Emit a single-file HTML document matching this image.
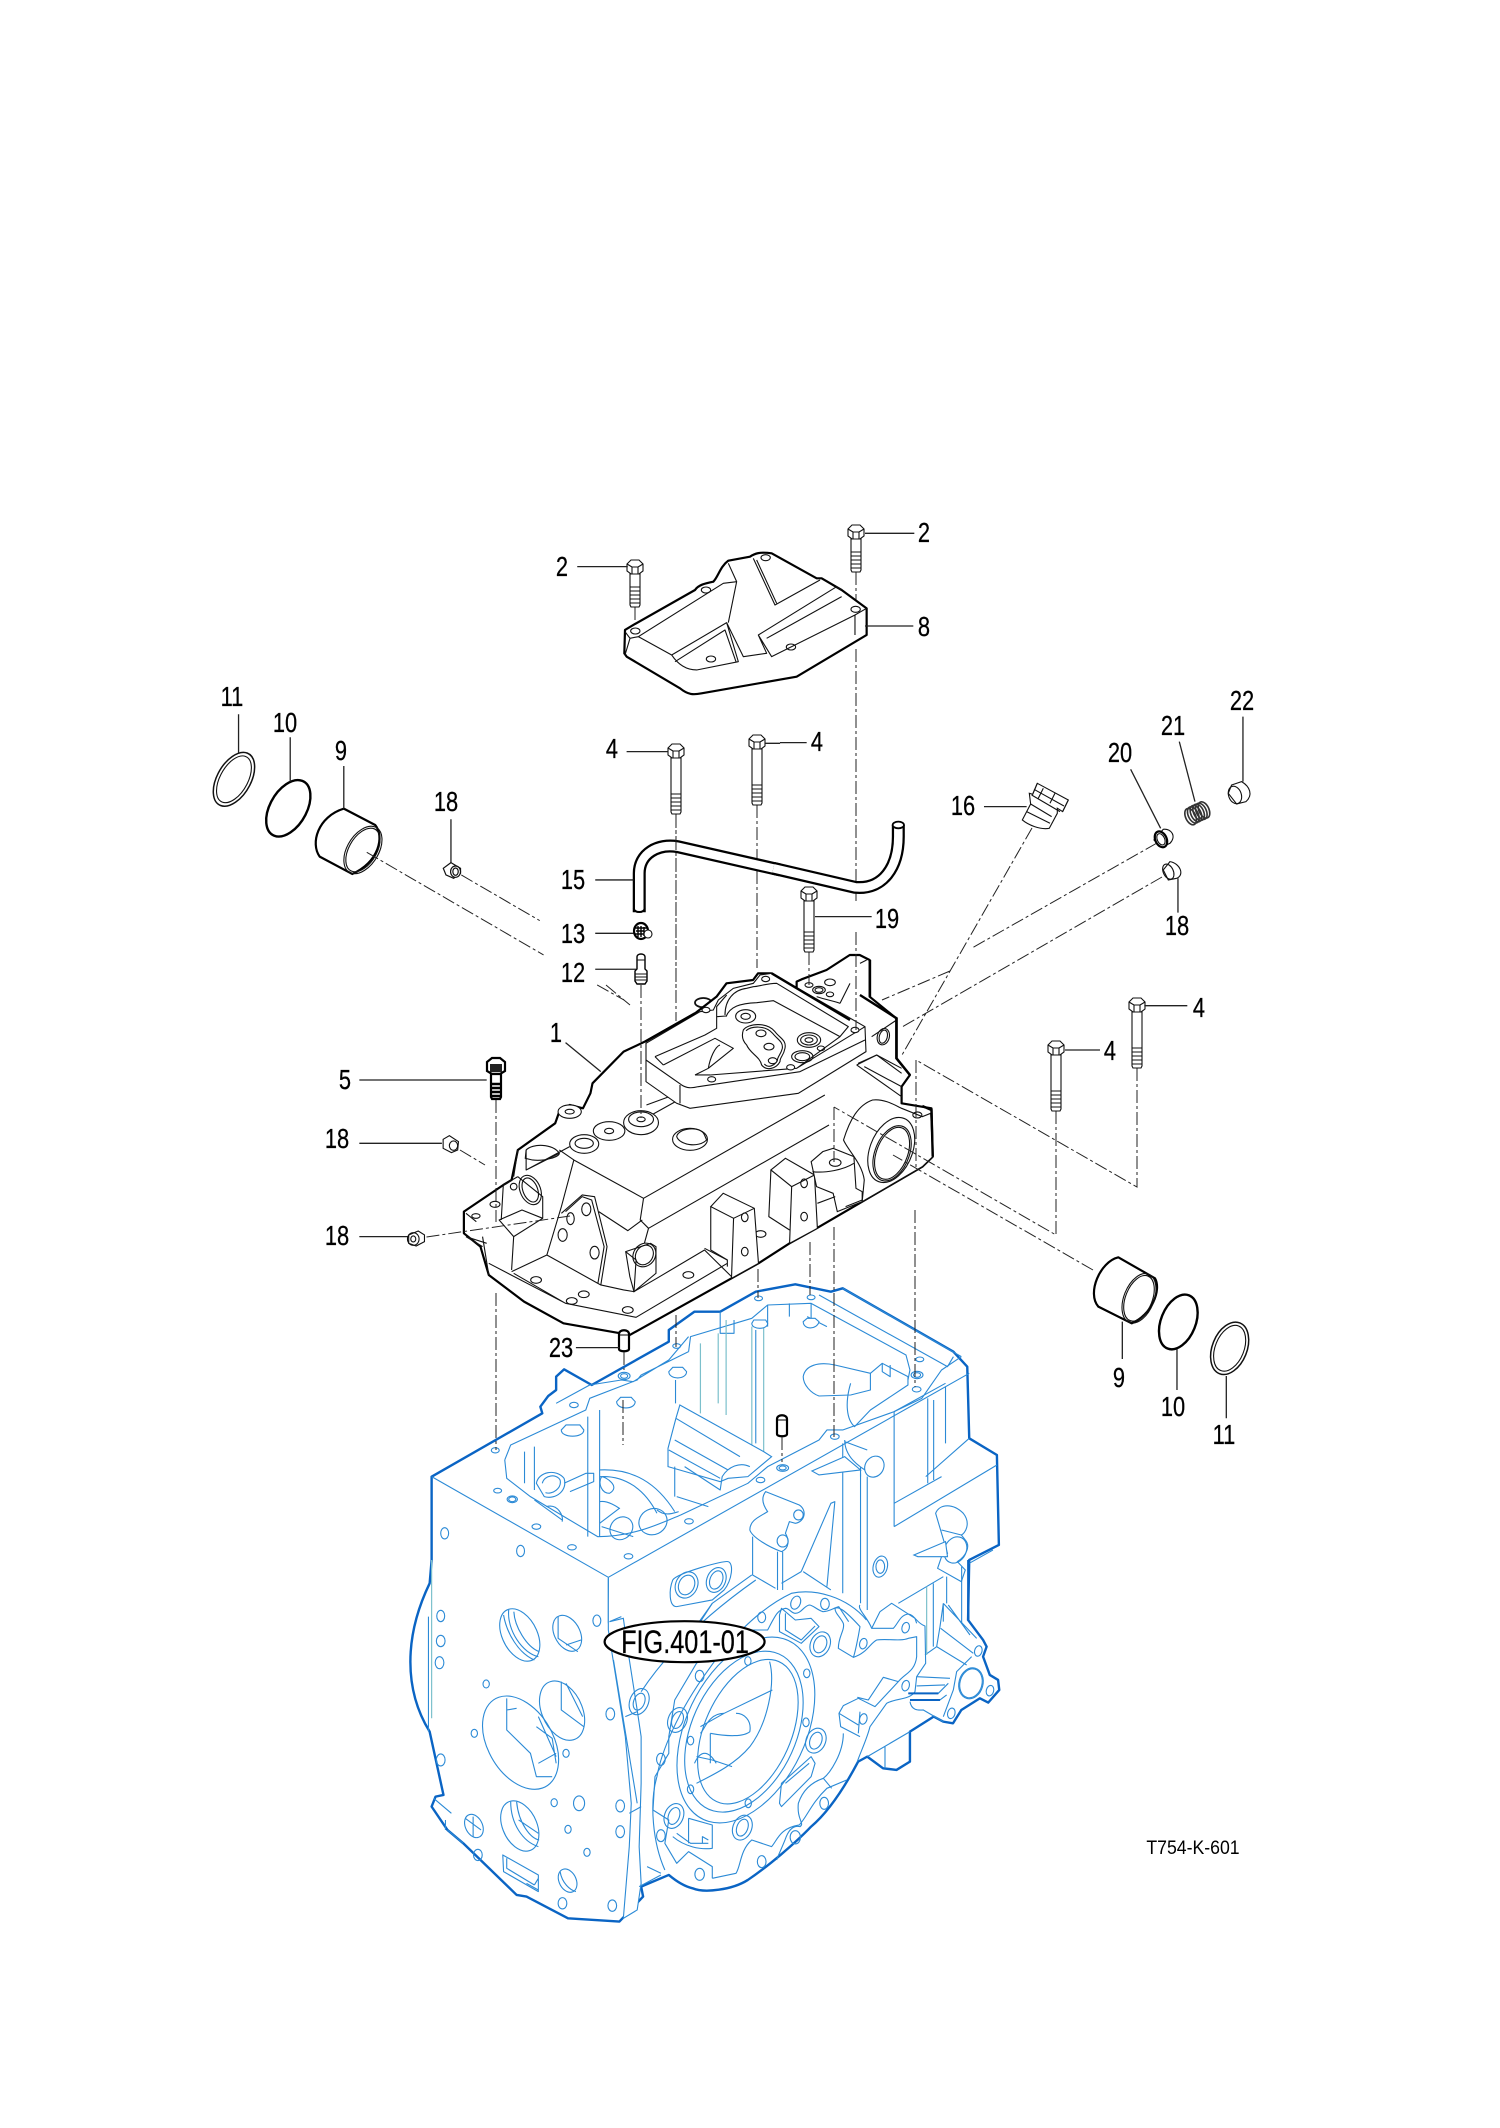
<!DOCTYPE html>
<html><head><meta charset="utf-8"><style>
html,body{margin:0;padding:0;background:#fff}
svg{display:block}
svg *{vector-effect:non-scaling-stroke}
.o{fill:#fff;stroke:#0a64c4;stroke-width:2.4;stroke-linejoin:round}
.bk{fill:none;stroke:#0a64c4;stroke-width:2.4}
.t{fill:none;stroke:#2b8ad6;stroke-width:1.1;stroke-linejoin:round}
.tf{fill:#fff;stroke:#2b8ad6;stroke-width:1.1}
.g{fill:none;stroke:#7cc0cc;stroke-width:1.2}
.c{fill:#fff;stroke:#000;stroke-width:2.2;stroke-linejoin:round}
.k{fill:none;stroke:#111;stroke-width:1.1;stroke-linejoin:round}
.kf{fill:#fff;stroke:#111;stroke-width:1.1}
.K{fill:none;stroke:#000;stroke-width:2.4}
.Kf{fill:#fff;stroke:#000;stroke-width:2.2}
.d{fill:none;stroke:#222;stroke-width:1;stroke-dasharray:13 3 3 3}
.l{fill:none;stroke:#222;stroke-width:1.3}
text{font-family:"Liberation Sans",sans-serif;font-size:28px;fill:#000;text-anchor:middle;stroke:#000;stroke-width:.25}
</style></head><body>
<svg xmlns="http://www.w3.org/2000/svg" width="1500" height="2128" viewBox="0 0 1500 2128">
<defs>
<g id="h"><path class="kf" d="M-8,-3 L-4,-7 L4,-7 L8,-3 L8,4 L4,7 L-4,7 L-8,4 Z"/><path class="k" d="M-8,-3 L-3,0 L3,0 L8,-3 M-3,0 V7 M3,0 V7"/></g>
<g id="th"><path class="k" d="M-5,-20H5M-5,-16H5M-5,-12H5M-5,-8H5M-5,-4H5"/></g>
</defs>

<!-- BLUE HOUSING -->
<g transform="translate(400,1270) scale(.3953,.3333)">
<path class="o" d="M80,620 L360,430 L355,410 L375,378 L395,360 L395,320 L415,298 L485,345 L680,215 L680,180 L745,125 L810,125 L900,65 L1000,43 L1090,65 L1120,55 L1400,245 L1435,290 L1440,505 L1510,555 L1515,825 L1440,870 L1437,1050 L1475,1110 L1484,1130 L1475,1160 L1492,1215 L1513,1230 L1516,1260 L1488,1298 L1467,1285 L1420,1320 L1399,1360 L1374,1355 L1350,1340 L1290,1385 L1290,1475 L1256,1500 L1222,1495 L1182,1460 L1159,1475 C1130,1540 1090,1620 1040,1670 C1000,1720 930,1790 880,1830 C840,1860 770,1870 740,1855 C715,1848 695,1830 680,1815 L610,1850 L615,1880 L555,1955 L425,1945 L320,1880 L295,1875 L160,1720 L120,1680 L80,1610 L90,1580 L110,1575 L75,1385 C10,1260 10,1100 75,940 L80,870 Z"/>
<!-- top edges -->
<path class="t" d="M80,620 L527,922 L1440,310 M527,922 V1060 M1250,770 L1510,585 M1250,770 V425 M1250,700 L1370,620 M1440,505 L1330,620 M1250,425 L1380,340"/>
<path class="t" d="M730,245 L735,200 L890,145 L930,105 L1040,100 L1280,255 L1290,300 L1285,330 M1060,75 L1385,290 L1400,260 M1120,55 L1420,260"/>
<path class="t" d="M265,570 L280,525 L470,420 L480,385 L600,330 L610,315 L730,245 M395,400 L480,345 L560,330 L590,335 L680,270 L730,200"/>
<path class="t" d="M265,570 L270,625 L330,680 L500,800 C590,800 660,760 710,735 L880,640 L930,590 L1060,510 L1080,480 L1120,480 L1250,425 L1320,385 L1370,300 L1420,260"/>
<path class="t" d="M810,125 L810,190 L845,190 L845,150 M1040,100 L1040,165 M930,105 V170 M985,100 V140 M1030,140 L1080,170"/>
<path class="g" d="M805,190 V400 M825,150 V435 M760,220 V430 M890,170 V530 M920,170 V550"/>
<path class="t" d="M900,180 V520 M697,330 V400 M475,440 V800 M505,420 V800 M340,530 V660 M315,545 V640 M1120,520 V970 M1165,610 V1000 M1182,620 V1020 M1335,385 V640 M1350,390 V630 M1380,350 V520"/>
<!-- dowel bosses -->
<path class="tf" d="M890,160 C890,180 930,180 930,160 L925,150 L895,150Z M1020,155 C1020,180 1055,180 1060,155 L1050,145 L1030,145Z M680,305 C680,330 725,330 725,305 L715,292 L690,292Z M548,395 C548,420 595,420 595,395 L585,382 L558,382Z M408,480 C408,505 465,505 465,480 L455,465 L420,465Z"/>
<!-- inner casting ridge -->
<path class="tf" d="M708,405 L920,545 L940,560 L880,620 L830,625 L810,635 L678,590 L678,535 L698,445Z"/>
<path class="t" d="M680,540 L810,625 M695,510 L830,600 M698,445 L860,560 M720,590 L810,660 L815,620 C830,590 860,575 885,590 M700,680 L780,710 M695,590 V680"/>
<path class="t" d="M1020,320 C1025,285 1060,275 1100,285 L1190,310 L1190,360 L1140,375 L1060,378 C1040,370 1020,345 1020,320 Z M1190,310 L1220,280 L1285,320 L1285,345 L1190,420 L1150,470 C1130,450 1125,400 1140,340"/>
<path class="t" d="M1220,280 V305 L1240,320 V285"/>
<!-- interior left -->
<path class="t" d="M345,640 C350,605 395,595 415,625 C425,660 395,690 365,680 Z M360,640 C365,615 395,610 405,630 C410,655 385,675 368,668 M415,640 L470,610 L490,610 V635 L430,665 M505,600 C590,595 650,640 695,725 M505,620 C570,615 620,660 650,730 M510,620 C520,620 560,650 530,670 C510,670 500,640 510,620 Z M505,760 L555,715 M505,695 C530,690 560,720 555,715"/>
<ellipse class="t" cx="560" cy="775" rx="28" ry="35" transform="rotate(20 560 775)"/>
<ellipse class="t" cx="640" cy="755" rx="35" ry="40" transform="rotate(20 640 755)"/>
<path class="t" d="M650,720 C670,740 690,730 705,725 M370,710 C400,700 415,740 410,755 M340,690 L410,750 M510,770 L590,800"/>
<!-- holes top face -->
<g class="t">
<ellipse class="t" cx="241" cy="541" rx="10" ry="8"/><ellipse class="t" cx="247" cy="662" rx="10" ry="7"/><ellipse class="t" cx="284" cy="688" rx="13" ry="10"/><ellipse class="t" cx="284" cy="688" rx="9" ry="7"/><ellipse class="t" cx="345" cy="770" rx="11" ry="8"/><ellipse class="t" cx="435" cy="832" rx="11" ry="8"/><ellipse class="t" cx="578" cy="859" rx="11" ry="8"/><ellipse class="t" cx="731" cy="754" rx="11" ry="8"/><ellipse class="t" cx="912" cy="630" rx="11" ry="8"/><ellipse class="t" cx="968" cy="594" rx="15" ry="10"/><ellipse class="t" cx="968" cy="594" rx="9" ry="6"/><ellipse class="t" cx="1100" cy="500" rx="11" ry="8"/><ellipse class="t" cx="1307" cy="358" rx="11" ry="8"/><ellipse class="t" cx="1308" cy="315" rx="15" ry="11"/><ellipse class="t" cx="1308" cy="315" rx="9" ry="7"/><ellipse class="t" cx="1315" cy="268" rx="10" ry="7"/><ellipse class="t" cx="1040" cy="82" rx="10" ry="7"/><ellipse class="t" cx="907" cy="85" rx="10" ry="7"/><ellipse class="t" cx="700" cy="228" rx="10" ry="7"/><ellipse class="t" cx="567" cy="318" rx="15" ry="11"/><ellipse class="t" cx="567" cy="318" rx="9" ry="7"/><ellipse class="t" cx="440" cy="405" rx="11" ry="8"/>
<ellipse class="t" cx="113" cy="790" rx="10" ry="17"/><ellipse class="t" cx="305" cy="843" rx="10" ry="17"/>
</g>
<!-- right side features -->
<path class="tf" d="M1042,603 L1125,560 L1165,600 L1060,615Z"/>
<path class="t" d="M1125,510 C1125,560 1160,590 1190,610 M1125,515 L1182,540 M1165,590 V620"/>
<ellipse class="tf" cx="1200" cy="590" rx="24" ry="32" transform="rotate(15 1200 590)"/>
<path class="t" d="M1015,905 L1090,700 L1100,695 L1080,950 M1020,905 L1090,960"/>
<path class="tf" d="M925,665 L1010,705 C1030,720 1025,755 1000,760 L985,755 L975,790 C985,810 985,835 965,845 C930,830 890,800 885,780 C885,750 910,740 930,725 C915,700 915,680 925,665 Z"/>
<ellipse class="t" cx="1008" cy="735" rx="12" ry="15"/><ellipse class="t" cx="968" cy="813" rx="14" ry="18"/>
<path class="t" d="M955,845 V960 M968,845 V960 M892,800 V915 L950,955 M890,915 L790,1000 L730,1100 M1015,905 L965,940"/>
<path class="tf" d="M690,930 C700,910 820,870 830,875 C845,880 840,930 820,960 L790,990 L700,1010 C680,1010 680,960 690,930Z"/>
<ellipse class="t" cx="725" cy="945" rx="28" ry="40" transform="rotate(15 725 945)"/><ellipse class="t" cx="725" cy="945" rx="20" ry="30" transform="rotate(15 725 945)"/>
<ellipse class="t" cx="800" cy="930" rx="24" ry="38" transform="rotate(15 800 930)"/><ellipse class="t" cx="800" cy="930" rx="16" ry="28" transform="rotate(15 800 930)"/>
<ellipse class="t" cx="1215" cy="890" rx="18" ry="32" transform="rotate(10 1215 890)"/><ellipse class="t" cx="1215" cy="890" rx="11" ry="20"/>
<path class="tf" d="M1355,730 C1365,700 1400,700 1425,730 C1445,760 1430,790 1420,795 L1430,810 C1445,830 1430,860 1410,875 L1430,900 L1420,935 L1360,895 L1370,860 L1385,850 L1370,790 Z"/>
<ellipse class="t" cx="1405" cy="840" rx="28" ry="40" transform="rotate(15 1405 840)"/>
<path class="tf" d="M1300,855 L1380,815 L1385,860 L1310,860Z"/>
<path class="t" d="M1370,780 L1420,795 M1500,840 L1440,880"/>
<path class="g" d="M80,870 V1345"/><path class="t" d="M72,1040 V1385"/>
</g>
<!-- lower housing, zoom-5 space -->
<g transform="translate(400,1550) scale(.3953,.3333)">
<!-- left face holes -->
<ellipse class="t" cx="103" cy="198" rx="10" ry="17"/><ellipse class="t" cx="103" cy="273" rx="11" ry="17"/><ellipse class="t" cx="100" cy="338" rx="11" ry="18"/><ellipse class="t" cx="498" cy="212" rx="10" ry="17"/><ellipse class="t" cx="218" cy="402" rx="8" ry="12"/><ellipse class="t" cx="188" cy="550" rx="8" ry="12"/><ellipse class="t" cx="103" cy="630" rx="11" ry="18"/><ellipse class="t" cx="532" cy="492" rx="11" ry="18"/><ellipse class="t" cx="420" cy="610" rx="8" ry="12"/><ellipse class="t" cx="390" cy="758" rx="8" ry="12"/><ellipse class="t" cx="453" cy="760" rx="14" ry="22"/><ellipse class="t" cx="557" cy="768" rx="11" ry="18"/><ellipse class="t" cx="557" cy="845" rx="11" ry="18"/><ellipse class="t" cx="425" cy="838" rx="8" ry="12"/><ellipse class="t" cx="473" cy="907" rx="8" ry="12"/><ellipse class="t" cx="197" cy="915" rx="11" ry="17"/><ellipse class="t" cx="411" cy="1060" rx="11" ry="17"/><ellipse class="t" cx="537" cy="1067" rx="11" ry="17"/>
<!-- big bores -->
<ellipse class="t" cx="303" cy="255" rx="45" ry="82" transform="rotate(-20 303 255)"/><path class="t" d="M275,180 C270,240 310,310 350,320 M262,195 C270,250 300,310 340,330 M288,185 C290,230 320,290 352,305"/>
<ellipse class="t" cx="423" cy="250" rx="33" ry="56" transform="rotate(-20 423 250)"/><path class="t" d="M400,200 V265 L450,305 M420,285 L458,270"/>
<ellipse class="t" cx="305" cy="578" rx="85" ry="147" transform="rotate(-22 305 578)"/>
<path class="t" d="M270,445 V540 L330,610 L345,680 L385,680 M270,480 L295,475 M350,500 L395,620 M345,530 L385,565 L395,640 M350,640 L395,610"/>
<ellipse class="t" cx="410" cy="482" rx="52" ry="92" transform="rotate(-18 410 482)"/><path class="t" d="M408,395 V480 L465,530 M420,400 L462,500"/>
<ellipse class="t" cx="303" cy="828" rx="44" ry="78" transform="rotate(-18 303 828)"/><path class="t" d="M280,755 C280,820 310,875 350,890 M295,755 C300,820 330,865 352,870 M300,810 L350,850"/>
<ellipse class="t" cx="187" cy="828" rx="22" ry="36" transform="rotate(-18 187 828)"/><path class="t" d="M165,805 L205,840 M185,800 V860"/>
<ellipse class="t" cx="424" cy="992" rx="22" ry="36" transform="rotate(-18 424 992)"/><path class="t" d="M405,965 C410,1000 430,1020 445,1025"/>
<path class="t" d="M260,915 L350,975 L350,1025 L262,965Z M270,925 V955 L340,1005 M340,1005 L350,985 M320,1000 L350,1020"/>
<path class="t" d="M120,840 L160,880 M115,810 V840 M85,745 L130,790"/>
<!-- left end strip -->
<path class="tf" d="M527,85 L527,240 L570,560 L585,760 L580,890 L565,1105 L600,1080 L610,1000 L605,890 L610,700 L610,560 L600,480 L575,290 L565,205 L530,215"/>
<path class="t" d="M540,330 L600,760 M605,1010 L660,975 M625,950 L660,970 M570,500 L600,485 M530,215 L560,200 M580,790 L610,770"/>
<ellipse class="t" cx="605" cy="455" rx="24" ry="40" transform="rotate(15 605 455)"/><ellipse class="t" cx="605" cy="455" rx="14" ry="26" transform="rotate(15 605 455)"/>
<path class="t" d="M610,425 C680,300 780,190 900,90 M790,160 L760,215"/>
<!-- big flange -->
<path class="t" d="M670,960 C640,880 630,760 650,680 C660,610 700,490 780,360 C820,290 900,180 990,130 C1050,115 1130,140 1180,210"/>
<path class="t" d="M790,985 L850,970 C862,950 860,900 890,870 L940,890 C955,870 960,835 1010,825 C1030,800 1040,760 1080,715 L1130,690 M1135,215 L1110,170 C1095,175 1085,185 1070,185 C1055,180 1045,165 1035,165 C1020,170 1015,190 1000,190 C990,190 985,175 975,175 C955,180 950,195 930,240 L870,240 L750,340 L695,450 L680,560 L680,610 L645,680 L640,780 L680,810 L670,880 L700,940 L730,905 L790,950 V985"/>
<ellipse class="t" cx="1001" cy="158" rx="12" ry="20" transform="rotate(15 1001 158)"/><ellipse class="t" cx="1075" cy="162" rx="11" ry="17"/><ellipse class="t" cx="915" cy="202" rx="10" ry="16"/><ellipse class="t" cx="660" cy="628" rx="11" ry="18"/><ellipse class="t" cx="660" cy="857" rx="11" ry="18"/><ellipse class="t" cx="758" cy="973" rx="12" ry="18"/><ellipse class="t" cx="915" cy="935" rx="11" ry="18"/><ellipse class="t" cx="1000" cy="862" rx="13" ry="20"/><ellipse class="t" cx="1073" cy="760" rx="11" ry="18"/>
<path class="t" d="M960,195 L965,175 L1000,210 L1040,205 L1060,230 L1015,280 L960,245Z M975,190 V240 L1015,270 L1050,228"/>
<ellipse class="t" cx="1063" cy="283" rx="25" ry="38" transform="rotate(15 1063 283)"/><ellipse class="t" cx="1063" cy="283" rx="16" ry="26" transform="rotate(15 1063 283)"/>
<ellipse class="t" cx="1052" cy="572" rx="25" ry="38" transform="rotate(15 1052 572)"/><ellipse class="t" cx="1052" cy="572" rx="15" ry="26" transform="rotate(15 1052 572)"/>
<ellipse class="t" cx="702" cy="510" rx="24" ry="38" transform="rotate(15 702 510)"/><ellipse class="t" cx="702" cy="510" rx="14" ry="26" transform="rotate(15 702 510)"/>
<ellipse class="t" cx="693" cy="798" rx="24" ry="38" transform="rotate(15 693 798)"/><ellipse class="t" cx="693" cy="798" rx="14" ry="26" transform="rotate(15 693 798)"/>
<ellipse class="t" cx="866" cy="833" rx="24" ry="38" transform="rotate(15 866 833)"/><ellipse class="t" cx="866" cy="833" rx="14" ry="26" transform="rotate(15 866 833)"/>
<!-- main bore flange -->
<ellipse class="t" cx="875" cy="540" rx="155" ry="290" transform="rotate(19 875 540)"/>
<ellipse class="t" cx="870" cy="545" rx="135" ry="250" transform="rotate(18 870 545)"/>
<ellipse class="t" cx="880" cy="545" rx="112" ry="225" transform="rotate(18 880 545)"/>
<path class="t" d="M935,335 C950,400 930,520 885,590 C850,640 800,670 750,700 M942,420 L820,490 L760,530 M820,490 C780,490 770,540 760,550 M785,550 C830,560 870,560 885,545 C890,510 870,490 850,490 M785,550 V640 M750,620 L790,630 L840,650 M745,640 C760,600 780,600 800,640"/>
<ellipse class="t" cx="1029" cy="370" rx="8" ry="13"/><ellipse class="t" cx="1027" cy="517" rx="8" ry="13"/><ellipse class="t" cx="880" cy="333" rx="8" ry="13"/><ellipse class="t" cx="881" cy="760" rx="8" ry="13"/><ellipse class="t" cx="735" cy="718" rx="8" ry="13"/><ellipse class="t" cx="735" cy="572" rx="8" ry="13"/><ellipse class="t" cx="758" cy="378" rx="11" ry="17"/>
<path class="t" d="M960,760 L965,700 L1040,620 L1050,640 L1040,680 L965,770Z M975,700 L1035,640 M690,860 C720,890 760,900 790,895 V825 L730,805 M700,850 L735,880 L780,880 M730,805 V880 M765,880 V860 L780,870"/>
</g>
<!-- lower-right lug and flange, real scale -->
<g transform="translate(780,1540) scale(.3333)">
<path class="t" d="M240,195 C230,205 265,235 275,265 L340,265 C355,250 360,225 385,222 C405,225 410,250 435,258 L437,370 L410,410 L405,455 C390,480 345,475 320,490 L270,560 C260,600 240,640 232,665"/>
<path class="t" d="M165,205 C175,200 190,205 240,260 C235,290 225,340 220,352 L175,325 C175,290 195,270 190,250 C180,230 165,220 165,205 Z"/>
<path class="t" d="M220,352 C260,340 270,310 290,300 C320,295 360,305 385,295 L410,290 V350 C405,395 375,400 355,425 L285,500 L235,475 L190,497 L177,520 L182,560 L240,590 M355,425 L310,412 L265,480 L232,472 M240,515 L235,580 M177,520 L235,555"/>
<path class="t" d="M190,580 C190,640 150,700 130,715 L155,745 M130,715 C100,725 70,745 55,790 C50,840 75,850 60,860 C40,855 25,870 15,900 C5,925 -5,945 -10,960"/>
<path class="t" d="M300,215 L335,190 L405,235 L410,250 M300,215 L275,265 M262,650 L390,575 M315,620 V685 M355,190 L490,110"/>
<ellipse class="t" cx="377" cy="263" rx="11" ry="16" transform="rotate(15 377 263)"/><ellipse class="t" cx="250" cy="311" rx="11" ry="16" transform="rotate(15 250 311)"/><ellipse class="t" cx="377" cy="437" rx="11" ry="16" transform="rotate(15 377 437)"/><ellipse class="t" cx="250" cy="537" rx="11" ry="16" transform="rotate(15 250 537)"/><ellipse class="t" cx="630" cy="452" rx="11" ry="16" transform="rotate(15 630 452)"/><ellipse class="t" cx="595" cy="333" rx="11" ry="16" transform="rotate(15 595 333)"/><ellipse class="t" cx="514" cy="520" rx="11" ry="16" transform="rotate(15 514 520)"/>
<ellipse class="t" cx="573" cy="430" rx="33" ry="44" transform="rotate(15 573 430)"/><ellipse class="t" cx="573" cy="430" rx="36" ry="47" transform="rotate(15 573 430)"/>
<path class="t" d="M490,190 L590,295 M490,190 V245 M505,195 L570,285 M482,265 L580,340 M435,345 L470,320 L480,260 L490,190 M470,320 L560,375 M520,450 L530,395 L575,350 M490,530 L520,450 M410,410 L510,415 M385,460 L475,460 L505,430 M390,480 L480,480 L500,465 M410,438 L495,435 M390,485 C395,515 420,510 430,510 L490,545"/>
<path d="M385,460 H475 M390,480 H480" stroke="#0a64c4" stroke-width="2" fill="none"/>
<path class="g" d="M440,140 V345"/><path class="t" d="M460,130 V320 M500,110 V190 M545,80 V250"/>
<path class="bk" d="M565,60 V240"/>
</g>

<!-- DASHED LINES under parts -->
<path class="d" d="M676,1315V1347 M758,1269V1298 M810,1242V1295 M834,1227V1437 M915,1210V1387 M496,1293V1450"/>
<path class="d" d="M623,1400V1445"/>

<!-- BLACK CASE 1 -->
<g transform="translate(300,980) scale(.4149,.3333)">
<ellipse class="k" cx="972" cy="68" rx="20" ry="14" style="stroke-width:1.8"/>
<path class="c" d="M395,695 L490,615 L510,600 L525,510 L615,430 L625,395 L650,375 L682,385 L700,340 L705,310 L780,215 L831,185 L952,100 L1004,50 L1028,10 L1092,0 L1104,-20 L1136,-20 L1197,25 L1197,5 L1209,-2 L1269,-30 L1325,-75 L1349,-75 L1373,-60 L1373,50 L1437,115 L1437,235 L1470,285 L1450,320 L1450,370 L1522,385 L1525,530 L1500,560 L1355,665 L1245,745 L1180,790 L1105,850 L1040,895 L795,1065 L635,1030 L540,965 L455,885 L435,800 L395,760 Z"/>
<path class="k" d="M1345,250 L1390,225 L1450,265 M1360,260 L1450,320"/>
<!-- top of body -->
<path class="k" d="M660,540 L828,655 L1265,345 M828,655 L820,720 L840,745 L1275,435 M660,540 L630,680 L595,825 M660,540 L625,510 M835,375 L890,350 L905,365 L840,410 M790,450 L830,430"/>
<ellipse class="kf" cx="650" cy="395" rx="28" ry="20"/><ellipse class="k" cx="650" cy="395" rx="11" ry="7"/>
<ellipse class="kf" cx="745" cy="453" rx="38" ry="28"/><ellipse class="k" cx="745" cy="453" rx="11" ry="8"/>
<ellipse class="kf" cx="822" cy="428" rx="42" ry="36"/><ellipse class="k" cx="822" cy="418" rx="30" ry="22"/><ellipse class="k" cx="822" cy="418" rx="10" ry="7"/>
<ellipse class="kf" cx="685" cy="492" rx="35" ry="28"/><ellipse class="k" cx="685" cy="490" rx="22" ry="15"/>
<ellipse class="k" cx="940" cy="478" rx="42" ry="33"/><path class="kf" d="M908,470 C910,445 965,435 975,465 L980,480 C960,505 915,495 908,470Z"/>
<path class="kf" d="M545,510 C560,490 610,490 625,520 C625,530 590,545 560,540 L543,535Z"/>
<path class="k" d="M525,510 L515,590 M545,510 V570 L625,520 M545,570 L650,500 M490,615 L485,720 M490,615 L525,590"/>
<ellipse class="k" cx="555" cy="630" rx="25" ry="45" transform="rotate(-15 555 630)"/><ellipse class="k" cx="555" cy="630" rx="18" ry="37" transform="rotate(-15 555 630)"/>
<path class="k" d="M525,590 L585,650 V715 L515,770 L480,720 L535,690 L585,715 M515,770 L510,870 M440,770 L455,885 M400,770 L440,800 M400,700 L425,725 M400,770 L450,790"/>
<ellipse class="k" cx="424" cy="708" rx="10" ry="7"/><ellipse class="k" cx="470" cy="673" rx="12" ry="9"/><ellipse class="k" cx="515" cy="620" rx="8" ry="10"/>
<!-- base plate -->
<path class="k" d="M455,850 L640,970 L810,1012 L1030,850 M510,875 L595,825 L725,915 L780,930 L805,935 L860,895 L975,810 L1040,890 M515,880 L640,970 M975,805 L1030,840 V860"/>
<ellipse class="k" cx="569" cy="900" rx="13" ry="10"/><ellipse class="k" cx="684" cy="943" rx="13" ry="10"/><ellipse class="k" cx="655" cy="963" rx="13" ry="10"/><ellipse class="k" cx="790" cy="990" rx="13" ry="10"/><ellipse class="k" cx="936" cy="885" rx="13" ry="10"/><ellipse class="k" cx="1110" cy="762" rx="13" ry="10"/>
<!-- bracket -->
<path class="k" d="M630,700 L680,645 L710,650 L740,800 L725,915 M640,695 L680,650 L703,660 L733,800 L718,910"/>
<ellipse class="k" cx="690" cy="688" rx="11" ry="19"/><ellipse class="k" cx="633" cy="765" rx="11" ry="19"/><ellipse class="k" cx="710" cy="818" rx="11" ry="19"/><ellipse class="k" cx="652" cy="716" rx="9" ry="18"/>
<path class="k" d="M720,695 L790,752 L825,720"/>
<!-- lower boss -->
<path class="kf" d="M785,815 L845,790 L858,800 L858,880 L805,935 L795,890 Z"/>
<ellipse class="k" cx="830" cy="825" rx="27" ry="36" transform="rotate(15 830 825)"/><ellipse class="k" cx="830" cy="825" rx="21" ry="30" transform="rotate(15 830 825)"/>
<path class="k" d="M785,815 L810,840 L805,935 M840,745 L830,790"/>
<!-- ribs -->
<path class="kf" d="M990,680 L1020,640 L1095,685 L1105,850 L1040,895 L1045,715 Z"/>
<path class="k" d="M990,680 V810 L1030,840 M1045,715 L1095,685"/>
<ellipse class="k" cx="1072" cy="712" rx="8" ry="13"/><ellipse class="k" cx="1072" cy="815" rx="8" ry="13"/>
<path class="kf" d="M1135,570 L1170,535 L1240,585 L1247,745 L1180,790 L1185,620 Z"/>
<path class="k" d="M1135,570 L1130,710 L1180,750 M1185,620 L1240,585"/>
<ellipse class="k" cx="1215" cy="610" rx="8" ry="13"/><ellipse class="k" cx="1215" cy="710" rx="8" ry="13"/>
<path class="kf" d="M1232,545 L1260,515 L1285,505 L1335,530 L1340,625 L1355,635 V665 L1295,695 L1285,640 L1245,620 Z"/>
<ellipse class="k" cx="1290" cy="548" rx="14" ry="11"/>
<path class="k" d="M1235,575 C1265,580 1310,570 1335,550 M1247,670 L1290,650 M1315,680 L1355,660"/>
<path class="kf" d="M1310,480 C1325,420 1345,375 1380,360 C1410,355 1440,380 1450,385 L1500,410 L1520,400 L1525,530 L1500,560 L1355,665 L1360,600 C1355,550 1320,510 1310,480Z"/>
<ellipse class="kf" cx="1425" cy="510" rx="52" ry="100" transform="rotate(15 1425 510)"/>
<ellipse class="k" cx="1427" cy="520" rx="42" ry="85" transform="rotate(15 1427 520)"/>
<ellipse class="k" cx="1427" cy="520" rx="38" ry="80" transform="rotate(15 1427 520)"/>
<ellipse class="k" cx="1488" cy="405" rx="11" ry="9"/>
<path class="K" d="M1500,378 L1522,390 L1525,530"/>
</g>
<!-- case top plate (1:3 crop) -->
<g transform="translate(620,940) scale(.3333)">
<path class="k" d="M530,145 L690,240 M660,190 L690,130 M590,170 C620,180 650,185 660,190 M720,165 L830,235 M755,290 L830,240 M720,70 L740,60"/>
<ellipse class="k" cx="567" cy="135" rx="12" ry="7"/><ellipse class="k" cx="597" cy="150" rx="19" ry="11"/><ellipse class="k" cx="597" cy="150" rx="12" ry="7"/><ellipse class="k" cx="630" cy="127" rx="16" ry="10"/><ellipse class="k" cx="630" cy="163" rx="11" ry="7"/>
<ellipse class="k" cx="790" cy="290" rx="18" ry="25" transform="rotate(15 790 290)"/><ellipse class="k" cx="790" cy="290" rx="12" ry="20" transform="rotate(15 790 290)"/>
<path class="kf" d="M78,310 L240,215 L280,210 L295,180 L340,145 L400,130 L420,105 L455,100 L735,260 L738,335 L535,460 L210,505 L170,490 L78,425 Z"/>
<path class="k" d="M78,360 L185,435 C200,445 215,445 235,440 L540,395 L735,300 M180,435 V490"/>
<path class="k" d="M315,225 C315,180 340,150 380,145 L400,140 C415,140 440,130 470,130 L685,260 L660,290 M318,230 C330,200 360,190 410,188 L460,182 L660,290 L530,385 L270,405 L225,405 M530,385 L735,260"/>
<path class="k" d="M105,350 L255,285 L290,265 L290,200 L320,165 M130,375 L285,295 L340,325 L265,385 M265,385 C270,355 285,320 300,315 M225,405 L265,385 M105,350 L130,375 M290,230 L318,228"/>
<path class="kf" d="M370,270 C385,250 440,245 465,275 C480,295 500,300 495,325 C490,350 480,350 480,365 C470,385 440,395 425,375 C420,350 390,340 380,315 C365,300 365,285 370,270Z"/>
<path class="k" d="M378,272 C395,258 435,255 458,280 C472,298 490,305 487,325 C482,345 472,350 472,362 C462,378 445,385 433,372"/>
<ellipse class="kf" cx="423" cy="280" rx="15" ry="10"/><ellipse class="kf" cx="447" cy="320" rx="15" ry="10"/><ellipse class="kf" cx="458" cy="362" rx="13" ry="9"/>
<ellipse class="k" cx="377" cy="229" rx="30" ry="20"/><ellipse class="k" cx="377" cy="229" rx="14" ry="9"/>
<ellipse class="k" cx="567" cy="300" rx="35" ry="22"/><ellipse class="k" cx="567" cy="300" rx="25" ry="15"/><ellipse class="k" cx="567" cy="300" rx="12" ry="7"/>
<ellipse class="k" cx="547" cy="350" rx="32" ry="18"/><ellipse class="k" cx="547" cy="350" rx="22" ry="12"/>
<ellipse class="k" cx="603" cy="325" rx="11" ry="7"/><ellipse class="kf" cx="512" cy="382" rx="12" ry="8"/><ellipse class="kf" cx="275" cy="418" rx="12" ry="8"/><ellipse class="kf" cx="258" cy="210" rx="12" ry="8"/><ellipse class="kf" cx="437" cy="117" rx="12" ry="8"/><ellipse class="kf" cx="705" cy="270" rx="12" ry="8"/>
<path class="K" d="M75,305 L225,220 M455,100 L690,240"/>
<path class="k" d="M710,375 L770,345 L845,400 M710,375 L845,470"/>
<path class="K" d="M720,165 L830,235 V355 L870,405 M750,60 V170"/>
</g>

<!-- DASHED LINES -->
<path class="d" d="M635,607V632 M856,572V640 M856,649V901 M856,932V1030 M676,814V1021 M757,805V968 M809,952V985 M641,985V1118 M496,1100V1222 M834,1107V1162 M916,1060V1167"/>
<path class="d" d="M1056,1111V1235 L834,1107 M1137,1068V1187 L916,1060 M1093,1270 L893,1155"/>
<path class="d" d="M1157,843 L972,948 M950,971 L882,1000 M1162,877 L902,1027 M1032,828 L902,1055"/>
<path class="d" d="M606,985 L630,1005 M460,1150 L485,1165 M426.5,1237 L570,1216"/>

<!-- COVER 8 -->
<g transform="translate(610,540) scale(.3333)">
<path class="c" d="M45,270 L75,252 L255,150 C265,135 285,130 310,125 C325,110 330,80 355,62 L420,50 C435,40 450,35 485,40 L620,115 L635,115 L695,150 L770,205 V285 L560,410 L275,460 C250,465 235,465 210,445 L50,350 L43,340 Z"/>
<path class="k" d="M45,275 L60,295 L85,290 L340,130 L380,125 L355,70 M60,295 L45,345 M85,290 L185,345 L350,248 L400,350 L470,340 L445,285 L680,140 L695,150 M470,295 L695,170 M445,285 L485,350 L735,225 L770,205 M195,365 L345,270 L378,365 M350,248 L385,365 L260,390 C230,390 205,375 185,345 M430,55 L495,195 L630,120 M440,60 L500,190 M380,125 L355,248 M735,225 V285"/>
<ellipse class="k" cx="76" cy="273" rx="14" ry="9"/><ellipse class="k" cx="288" cy="150" rx="14" ry="9"/><ellipse class="k" cx="467" cy="53" rx="14" ry="9"/><ellipse class="k" cx="737" cy="208" rx="14" ry="9"/><ellipse class="k" cx="543" cy="321" rx="14" ry="9"/><ellipse class="k" cx="303" cy="357" rx="14" ry="9"/>
</g>

<!-- BOLTS -->
<g id="bolts">
<g transform="translate(635,567)"><use href="#h"/><path class="kf" d="M-5,7V38L-4,40H4L5,38V7Z"/><g transform="translate(0,40)"><use href="#th"/></g></g>
<g transform="translate(856,532)"><use href="#h"/><path class="kf" d="M-5,7V38L-4,40H4L5,38V7Z"/><g transform="translate(0,40)"><use href="#th"/></g></g>
<g transform="translate(676,751)"><use href="#h"/><path class="kf" d="M-5,7V61L-4,63H4L5,61V7Z"/><g transform="translate(0,63)"><use href="#th"/></g></g>
<g transform="translate(757,742)"><use href="#h"/><path class="kf" d="M-5,7V61L-4,63H4L5,61V7Z"/><g transform="translate(0,63)"><use href="#th"/></g></g>
<g transform="translate(809,894)"><use href="#h"/><path class="kf" d="M-5,7V56L-4,58H4L5,56V7Z"/><g transform="translate(0,58)"><use href="#th"/></g></g>
<g transform="translate(1137,1005)"><use href="#h"/><path class="kf" d="M-5,7V61L-4,63H4L5,61V7Z"/><g transform="translate(0,63)"><use href="#th"/></g></g>
<g transform="translate(1056,1048)"><use href="#h"/><path class="kf" d="M-5,7V61L-4,63H4L5,61V7Z"/><g transform="translate(0,63)"><use href="#th"/></g></g>
<!-- bolt 5 dark -->
<g transform="translate(496,1066)"><path class="Kf" d="M-9,-4 L-4,-8 L4,-8 L9,-4 L9,5 L4,8 L-4,8 L-9,5 Z"/><path d="M-6,-2H6V6H-6Z" fill="#222"/><path class="Kf" d="M-5,8V31L-4,33H4L5,31V8Z"/><path class="K" d="M-5,18H5M-5,22H5M-5,26H5M-5,30H5"/></g>
<!-- 12 pin -->
<g transform="translate(641,955)"><path class="Kf" d="M-4,2 C-4,-2 4,-2 4,2 V14 L6,16 V26 L4,29 H-4 L-6,26 V16 L-4,14Z" style="stroke-width:1.4"/><path class="k" d="M-4,5H4M-6,19H6M-6,22H6M-6,25H6"/></g>
<!-- 13 clip -->
<g transform="translate(641,931)"><ellipse cx="0" cy="0" rx="7" ry="8" class="Kf"/><path d="M-6,-3H6M-5,0H3M-6,3H5M-3,-5V6M0,-5V6M3,-4V5" stroke="#000" stroke-width="1.4"/><ellipse cx="7" cy="3" rx="4" ry="4" class="kf"/></g>
<!-- 23 dowel -->
<g transform="translate(624,1340)"><path class="Kf" d="M-5,-6 C-5,-11 5,-11 5,-6 V9 C5,12 -5,12 -5,9Z"/><path class="K" d="M-4,-5H4" style="stroke-width:1"/></g>
<g transform="translate(782,1425)"><path class="Kf" d="M-5,-6 C-5,-11 5,-11 5,-6 V9 C5,12 -5,12 -5,9Z"/><path class="K" d="M-4,-5H4" style="stroke-width:1"/></g>
<path class="d" d="M624,1352V1370 M782,1437V1462"/>
</g>

<!-- LEFT RINGS / BUSHING (zoom1 space) -->
<g transform="translate(180,500) scale(.3827,.3333)">
<ellipse class="k" cx="141" cy="838" rx="45" ry="86" transform="rotate(24 141 838)" style="stroke-width:1.5"/>
<ellipse class="k" cx="141" cy="838" rx="37" ry="75" transform="rotate(24 141 838)"/>
<ellipse class="K" cx="283" cy="925" rx="49" ry="90" transform="rotate(24 283 925)"/>
<path class="c" d="M428,926 L510,975 C535,1010 520,1085 450,1122 L365,1070 C340,1030 360,950 428,926 Z"/>
<ellipse class="k" cx="478" cy="1050" rx="42" ry="76" transform="rotate(25 478 1050)"/>
<ellipse class="k" cx="478" cy="1050" rx="37" ry="70" transform="rotate(25 478 1050)"/>
<path class="l" d="M153,643V760 M288,712V845 M428,798V926 M708,958V1090"/>
<path class="d" d="M488,1057 L950,1365 M735,1125 L940,1262 M1090,1455 L1160,1500"/>
<g fill="#fff" stroke="#111" stroke-width="1.2"><path d="M708,1088 L733,1105 V1120 L715,1135 L695,1125 L688,1105 Z"/><ellipse cx="720" cy="1115" rx="13" ry="17"/><ellipse cx="720" cy="1115" rx="7" ry="11"/></g>
<!-- hose 15 -->
<path d="M1200,1237 V1120 C1200,1060 1250,1030 1300,1040 L1568,1110" fill="none" stroke="#000" stroke-width="13"/>
<path d="M1200,1237 V1120 C1200,1060 1250,1030 1300,1040 L1568,1110" fill="none" stroke="#fff" stroke-width="8.5"/>
<path d="M1186,1225 C1186,1240 1214,1240 1214,1225" fill="none" stroke="#000" stroke-width="2"/>
<path class="d" d="M1296,945 V1500"/>
</g>
<!-- hose right part (zoom2 space) -->
<g transform="translate(780,500) scale(.3333,.3333)">
<path d="M-20,1105 L225,1162 C310,1170 355,1100 355,1010 V975" fill="none" stroke="#000" stroke-width="13"/>
<path d="M-20,1105 L225,1162 C310,1170 355,1100 355,1010 V975" fill="none" stroke="#fff" stroke-width="8.5"/>
<ellipse class="Kf" cx="355" cy="975" rx="17" ry="10" style="stroke-width:1.8"/>
<!-- 16 -->
<path class="kf" d="M772,850 L865,900 L848,935 L832,925 L832,940 L808,985 C780,990 745,975 727,960 L752,912 L748,880 L758,883Z"/>
<path class="k" d="M762,868 L852,918 M755,885 L840,935 M752,912 L815,950 M740,935 L810,970 M772,850 L758,883 M865,900 L848,935 M825,880 L810,910 M790,865 L775,895"/>
<!-- 20 -->
<path class="kf" d="M1150,988 C1175,985 1190,1010 1170,1030 L1145,1042 L1122,1020 Z"/>
<ellipse cx="1143" cy="1018" rx="17" ry="25" transform="rotate(-25 1143 1018)" fill="#fff" stroke="#000" stroke-width="2.2"/>
<ellipse class="k" cx="1143" cy="1018" rx="11" ry="18" transform="rotate(-25 1143 1018)"/>
<!-- 21 spring -->
<g fill="none" stroke="#333" stroke-width="1.6"><ellipse cx="1232" cy="950" rx="15" ry="26" transform="rotate(-25 1232 950)"/><ellipse cx="1240" cy="945" rx="15" ry="26" transform="rotate(-25 1240 945)"/><ellipse cx="1248" cy="941" rx="15" ry="26" transform="rotate(-25 1248 941)"/><ellipse cx="1256" cy="937" rx="15" ry="26" transform="rotate(-25 1256 937)"/><ellipse cx="1264" cy="934" rx="15" ry="26" transform="rotate(-25 1264 934)"/><ellipse cx="1272" cy="930" rx="15" ry="26" transform="rotate(-25 1272 930)"/></g>
<!-- 22 -->
<path class="kf" d="M1355,855 L1385,845 C1410,860 1420,885 1398,905 L1370,912 L1345,880 Z"/>
<ellipse class="k" cx="1365" cy="885" rx="19" ry="27" transform="rotate(-20 1365 885)"/>
<!-- 18 right -->
<path class="kf" d="M1170,1085 C1200,1090 1215,1125 1190,1135 L1165,1140 L1150,1110Z"/>
<ellipse class="k" cx="1165" cy="1115" rx="15" ry="24" transform="rotate(-25 1165 1115)"/>
<path class="l" d="M1052,808 L1142,985 M1198,725 L1245,905 M1389,650 V845 M1194,1135 V1238 M612,920 H740 M105,1250 H275 M255,378 H400"/>
<path class="l" d="M255,100 H403 M0,728 H80"/>
</g>
<!-- zoom6 parts -->
<g transform="translate(960,1000) scale(.3333,.3333)">
<path class="c" d="M475,772 L585,835 C605,870 575,945 515,970 L415,920 C380,880 420,785 475,772 Z"/>
<ellipse class="k" cx="537" cy="895" rx="45" ry="78" transform="rotate(22 537 895)"/><ellipse class="k" cx="537" cy="895" rx="40" ry="72" transform="rotate(22 537 895)"/>
<ellipse class="K" cx="655" cy="966" rx="52" ry="86" transform="rotate(22 655 966)" />
<ellipse class="k" cx="809" cy="1045" rx="52" ry="82" transform="rotate(22 809 1045)" style="stroke-width:1.5"/>
<ellipse class="k" cx="809" cy="1045" rx="43" ry="72" transform="rotate(22 809 1045)"/>
<path class="l" d="M487,965 V1077 M651,1048 V1170 M799,1128 V1255 M315,150 H420 M553,17 H682"/>
</g>
<!-- zoom1 leaders -->
<g transform="translate(180,500) scale(.3827,.3333)">
<path class="l" d="M1038,200 H1170 M1167,755 H1275 M1530,730 H1568 M1085,1140 H1185 M1085,1300 H1185 M1085,1408 H1192"/>
</g>
<!-- zoom3 leaders, caps -->
<g transform="translate(300,980) scale(.4149,.3333)">
<path class="l" d="M640,188 L725,275 M143,300 H450 M143,490 H342 M143,770 H262 M665,1103 H770"/>
<path class="kf" d="M345,478 L360,467 L382,485 L380,510 L365,518 L345,505Z"/><ellipse class="k" cx="370" cy="497" rx="10" ry="14"/>
<path class="kf" d="M262,765 L285,753 L300,765 V785 L280,798 L262,790Z"/><ellipse class="k" cx="273" cy="777" rx="14" ry="19"/><ellipse class="k" cx="273" cy="777" rx="6" ry="9"/>
</g>

<!-- FIG ellipse -->
<ellipse cx="684.6" cy="1641.7" rx="80" ry="20.5" fill="#fff" stroke="#000" stroke-width="2.2"/>
<text transform="translate(685,1653) scale(.79,1)" style="font-size:32px">FIG.401-01</text>

<!-- LABELS -->
<g>
<text transform="translate(562,576) scale(.78,1)">2</text>
<text transform="translate(924,542) scale(.78,1)">2</text>
<text transform="translate(924,636) scale(.78,1)">8</text>
<text transform="translate(232,706) scale(.78,1)">11</text>
<text transform="translate(285,732) scale(.78,1)">10</text>
<text transform="translate(341,760) scale(.78,1)">9</text>
<text transform="translate(446,811) scale(.78,1)">18</text>
<text transform="translate(612,758) scale(.78,1)">4</text>
<text transform="translate(817,751) scale(.78,1)">4</text>
<text transform="translate(573,889) scale(.78,1)">15</text>
<text transform="translate(573,943) scale(.78,1)">13</text>
<text transform="translate(573,982) scale(.78,1)">12</text>
<text transform="translate(556,1042) scale(.78,1)">1</text>
<text transform="translate(345,1089) scale(.78,1)">5</text>
<text transform="translate(337,1148) scale(.78,1)">18</text>
<text transform="translate(337,1245) scale(.78,1)">18</text>
<text transform="translate(561,1357) scale(.78,1)">23</text>
<text transform="translate(963,815) scale(.78,1)">16</text>
<text transform="translate(1120,762) scale(.78,1)">20</text>
<text transform="translate(1173,735) scale(.78,1)">21</text>
<text transform="translate(1242,710) scale(.78,1)">22</text>
<text transform="translate(887,928) scale(.78,1)">19</text>
<text transform="translate(1177,935) scale(.78,1)">18</text>
<text transform="translate(1199,1017) scale(.78,1)">4</text>
<text transform="translate(1110,1060) scale(.78,1)">4</text>
<text transform="translate(1119,1387) scale(.78,1)">9</text>
<text transform="translate(1173,1416) scale(.78,1)">10</text>
<text transform="translate(1224,1444) scale(.78,1)">11</text>
<text transform="translate(1193,1854) scale(.93,1)" style="font-size:19px;stroke-width:0">T754-K-601</text>
</g>
</svg>
</body></html>
